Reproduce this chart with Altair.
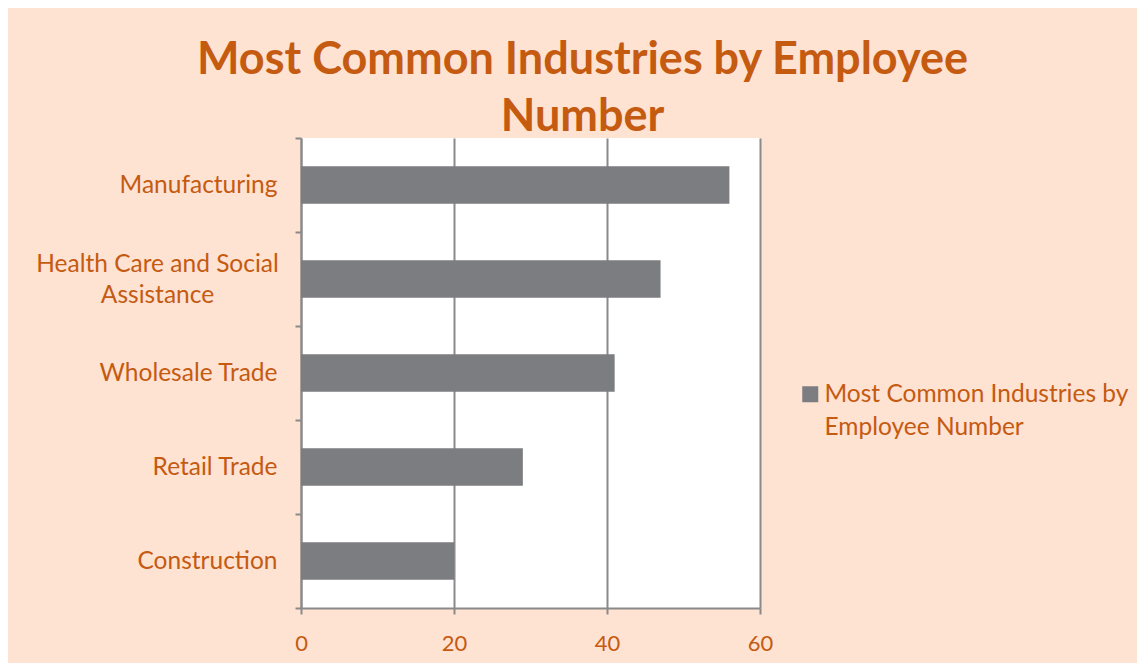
import altair as alt
import pandas as pd

industries = ["Manufacturing", "Health Care and Social Assistance", "Wholesale Trade", "Retail Trade", "Construction"]
employees = [56, 47, 41, 29, 20]
series_name = "Most Common Industries by Employee Number"
x_ticks = [0, 20, 40, 60]

df = pd.DataFrame({"industry": industries, "employees": employees, "series": series_name})

ORANGE = "#C55A11"
GRAY = "#7C7D81"
LINE = "#8A8A8A"
FONT = "Lato"
HC = "datum.value == 'Health Care and Social Assistance'"

chart = alt.Chart(df).mark_bar(color=GRAY, height=alt.RelativeBandSize(0.4)).encode(
    y=alt.Y(
        "industry:N",
        sort=industries,
        title=None,
        scale=alt.Scale(paddingInner=0, paddingOuter=0),
        axis=alt.Axis(
            tickBand="extent",
            tickSize=6,
            tickColor=LINE,
            tickWidth=2,
            domainColor=LINE,
            domainWidth=2,
            labelColor=ORANGE,
            labelFont=FONT,
            labelFontSize=24.5,
            labelLimit=400,
            labelExpr="datum.label == 'Health Care and Social Assistance' ? ['Health Care and Social', 'Assistance'] : datum.label",
            labelAlign={"condition": {"test": HC, "value": "center"}, "value": "right"},
            labelPadding={"condition": {"test": HC, "value": 138}, "value": 18},
            labelOffset={"condition": {"test": HC, "value": -15}, "value": 0},
            labelLineHeight=31,
            grid=False,
        ),
    ),
    x=alt.X(
        "employees:Q",
        title=None,
        scale=alt.Scale(domain=[0, 60], nice=False),
        axis=alt.Axis(
            values=x_ticks,
            tickSize=6,
            tickColor=LINE,
            tickWidth=2,
            domainColor=LINE,
            domainWidth=2,
            grid=True,
            gridColor=LINE,
            gridWidth=2,
            labelColor=ORANGE,
            labelFont=FONT,
            labelFontSize=22,
            labelPadding=19,
            labelFlush=False,
        ),
    ),
    color=alt.Color(
        "series:N",
        scale=alt.Scale(range=[GRAY]),
        legend=alt.Legend(
            title=None,
            orient="none",
            legendX=497,
            legendY=252,
            padding=0,
            symbolType="M-1,-2H1V0H-1Z",
            symbolSize=256,
            symbolStrokeWidth=0,
            symbolOpacity=1,
            labelOffset=2,
            labelColor=ORANGE,
            labelFont=FONT,
            labelFontSize=24.5,
            labelLimit=400,
            labelBaseline="alphabetic",
            labelExpr="['Most Common Industries by', 'Employee Number']",
        ),
    ),
).properties(
    width=459,
    height=470,
    padding={"left": 293, "top": 130, "right": 377, "bottom": 55},
    autosize=alt.AutoSizeParams(type="none"),
    background="#FEE2D2",
    title=alt.TitleParams(
        text=["Most Common Industries by Employee", "Number"],
        color=ORANGE,
        font=FONT,
        fontSize=45,
        fontWeight="bold",
        lineHeight=57,
        anchor="middle",
        dx=52,
        offset=-15,
    ),
).configure(
    style={"guide-label": {"lineHeight": 33}},
    view=alt.ViewConfig(stroke=None, fill="white"),
)

chart.save("out.html", embed_options={"renderer": "svg", "actions": False})
